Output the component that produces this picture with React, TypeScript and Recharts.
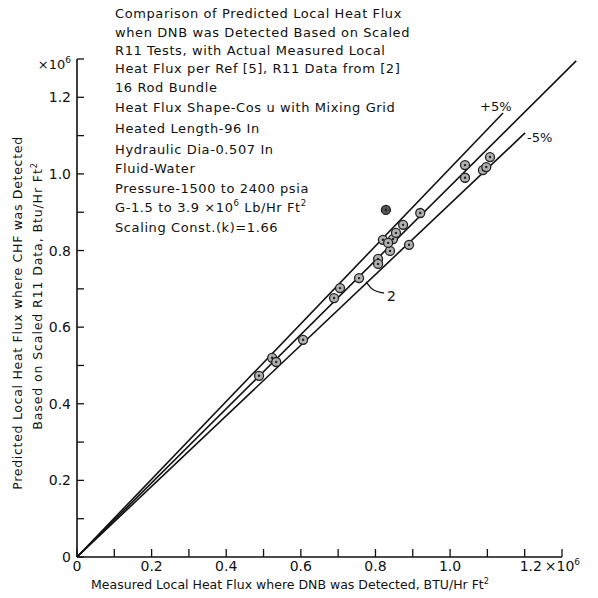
import React from 'react';
import { ComposedChart, XAxis, YAxis, Scatter, Line, ReferenceLine } from 'recharts';

// measured vs predicted heat flux (x10^6 BTU/Hr Ft2)
const points = [
	{ x: 0.488, y: 0.473 },
	{ x: 0.523, y: 0.520 },
	{ x: 0.534, y: 0.509 },
	{ x: 0.606, y: 0.567 },
	{ x: 0.689, y: 0.676 },
	{ x: 0.705, y: 0.702 },
	{ x: 0.756, y: 0.728 },
	{ x: 0.807, y: 0.778 },
	{ x: 0.807, y: 0.765 },
	{ x: 0.839, y: 0.799 },
	{ x: 0.820, y: 0.828 },
	{ x: 0.847, y: 0.830 },
	{ x: 0.834, y: 0.820 },
	{ x: 0.855, y: 0.846 },
	{ x: 0.874, y: 0.867 },
	{ x: 0.890, y: 0.815 },
	{ x: 0.920, y: 0.898 },
	{ x: 1.040, y: 1.023 },
	{ x: 1.040, y: 0.990 },
	{ x: 1.088, y: 1.010 },
	{ x: 1.097, y: 1.018 },
	{ x: 1.107, y: 1.044 },
];
const outlier = [{ x: 0.828, y: 0.906 }];

// line end points (all lines start at the origin)
const centerEnd = { x: 1.338, y: 1.295 };
const plusEnd = { x: 1.142, y: 1.159 };
const minusEnd = { x: 1.201, y: 1.107 };
const leader = [
	{ x: 0.775, y: 0.718 },
	{ x: 0.792, y: 0.699 },
	{ x: 0.823, y: 0.689 },
];

const ticks = [0, 0.1, 0.2, 0.3, 0.4, 0.5, 0.6, 0.7, 0.8, 0.9, 1.0, 1.1, 1.2, 1.3];

const notes = [
	'Comparison of Predicted Local Heat Flux',
	'when DNB was Detected Based on Scaled',
	'R11 Tests, with Actual Measured Local',
	'Heat Flux per Ref [5], R11 Data from [2]',
	'16 Rod Bundle',
	'Heat Flux Shape-Cos u with Mixing Grid',
	'Heated Length-96 In',
	'Hydraulic Dia-0.507 In',
	'Fluid-Water',
	'Pressure-1500 to 2400 psia',
	'G-1.5 to 3.9 \u00d710|6| Lb/Hr Ft|2',
	'Scaling Const.(k)=1.66',
];
const noteY = [13, 32, 50, 68, 87, 107, 128, 149, 168, 188, 207, 227];

const FONT = '"DejaVu Sans", sans-serif';
const INK = '#111';

// "a|b" -> b is superscript; first piece keeps the parent's dy
const withSup = (s: string, size: number) => {
	const parts = s.split('|');
	return parts.map((p, i) =>
		i % 2 === 1 ? (
			<tspan key={i} dy={-size * 0.4} fontSize={size * 0.65}>{p}</tspan>
		) : i > 0 ? (
			<tspan key={i} dy={size * 0.4}>{p}</tspan>
		) : (
			<tspan key={i}>{p}</tspan>
		)
	);
};

const YTick = (props: any) => {
	const { x, y, payload } = props;
	const k = Math.round(payload.value * 10);
	if (k === 13) {
		return (
			<text x={x} y={y + 5} dy="0.355em" textAnchor="end" fontFamily={FONT} fontSize={13} fill={INK}>
				{'\u00d710'}<tspan dy={-6} fontSize={9}>6</tspan>
			</text>
		);
	}
	if (k % 2) return <g />;
	return (
		<text x={x} y={y} dy="0.355em" textAnchor="end" fontFamily={FONT} fontSize={14} fill={INK}>
			{k === 0 ? '0' : payload.value.toFixed(1)}
		</text>
	);
};

const XTick = (props: any) => {
	const { x, y, payload } = props;
	const k = Math.round(payload.value * 10);
	if (k % 2) return <g />;
	if (k === 12) {
		return (
			<text x={x - 5} y={y} dy="0.71em" textAnchor="start" fontFamily={FONT} fontSize={14} fill={INK}>
				1.2{'\u2009\u00d710'}<tspan dy={-6} fontSize={9}>6</tspan>
			</text>
		);
	}
	return (
		<text x={x} y={y} dy="0.71em" textAnchor="middle" fontFamily={FONT} fontSize={14} fill={INK}>
			{k === 0 ? '0' : payload.value.toFixed(1)}
		</text>
	);
};

const Dot = (props: any) => {
	const { cx, cy, dark } = props;
	return (
		<g>
			<circle cx={cx} cy={cy} r={4.5} fill={dark ? '#555' : '#b0b0b0'} stroke="#222" strokeWidth={1.3} />
			<circle cx={cx} cy={cy} r={1.2} fill="#222" />
		</g>
	);
};

export default function App() {
	return (
		<div style={{ position: 'absolute', left: 0, top: 0, width: 598, height: 598, background: '#fff' }}>
			<ComposedChart width={598} height={598} margin={{ top: 59, right: 36, bottom: 11, left: 27 }}>
				<XAxis
					type="number"
					dataKey="x"
					domain={[0, 1.3]}
					ticks={ticks}
					interval={0}
					height={30}
					tickSize={-8}
					tickMargin={12}
					tick={<XTick />}
					axisLine={{ stroke: INK, strokeWidth: 1.6 }}
					tickLine={{ stroke: INK, strokeWidth: 1.3 }}
				/>
				<YAxis
					type="number"
					dataKey="y"
					domain={[0, 1.3]}
					ticks={ticks}
					interval={0}
					width={50}
					tickSize={-7}
					tickMargin={13}
					tick={<YTick />}
					axisLine={{ stroke: INK, strokeWidth: 1.6 }}
					tickLine={{ stroke: INK, strokeWidth: 1.3 }}
				/>
				<ReferenceLine segment={[{ x: 0, y: 0 }, centerEnd]} stroke={INK} strokeWidth={1.6} ifOverflow="visible" />
				<ReferenceLine segment={[{ x: 0, y: 0 }, plusEnd]} stroke={INK} strokeWidth={1.6} ifOverflow="visible" />
				<ReferenceLine segment={[{ x: 0, y: 0 }, minusEnd]} stroke={INK} strokeWidth={1.6} ifOverflow="visible" />
				<Line data={leader} dataKey="y" type="monotone" stroke={INK} strokeWidth={1.3} dot={false} isAnimationActive={false} />
				<Scatter data={points} shape={<Dot />} isAnimationActive={false} />
				<Scatter data={outlier} shape={<Dot dark />} isAnimationActive={false} />
			</ComposedChart>
			<svg width={598} height={598} style={{ position: 'absolute', left: 0, top: 0, pointerEvents: 'none' }}>
				{notes.map((n, i) => (
					<text key={i} x={115} y={noteY[i]} dy="0.35em" fontFamily={FONT} fontSize={13} letterSpacing={0.6} fill={INK}>
						{withSup(n, 13)}
					</text>
				))}
				<text x={480} y={106} dy="0.35em" fontFamily={FONT} fontSize={13} fill={INK}>+5%</text>
				<text x={527} y={137} dy="0.35em" fontFamily={FONT} fontSize={13} fill={INK}>-5%</text>
				<text x={387} y={296} dy="0.35em" fontFamily={FONT} fontSize={14} fill={INK}>2</text>
				<text x={290} y={585} dy="0.35em" textAnchor="middle" fontFamily={FONT} fontSize={12.5} fill={INK}>
					{withSup('Measured Local Heat Flux where DNB was Detected, BTU/Hr Ft|2', 12.5)}
				</text>
				<text transform="translate(18,313) rotate(-90)" dy="0.35em" textAnchor="middle" fontFamily={FONT} fontSize={12.5} letterSpacing={0.7} fill={INK}>
					Predicted Local Heat Flux where CHF was Detected
				</text>
				<text transform="translate(38,296) rotate(-90)" dy="0.35em" textAnchor="middle" fontFamily={FONT} fontSize={12.5} letterSpacing={0.9} fill={INK}>
					{withSup('Based on Scaled R11 Data, Btu/Hr Ft|2', 12.5)}
				</text>
			</svg>
		</div>
	);
}
